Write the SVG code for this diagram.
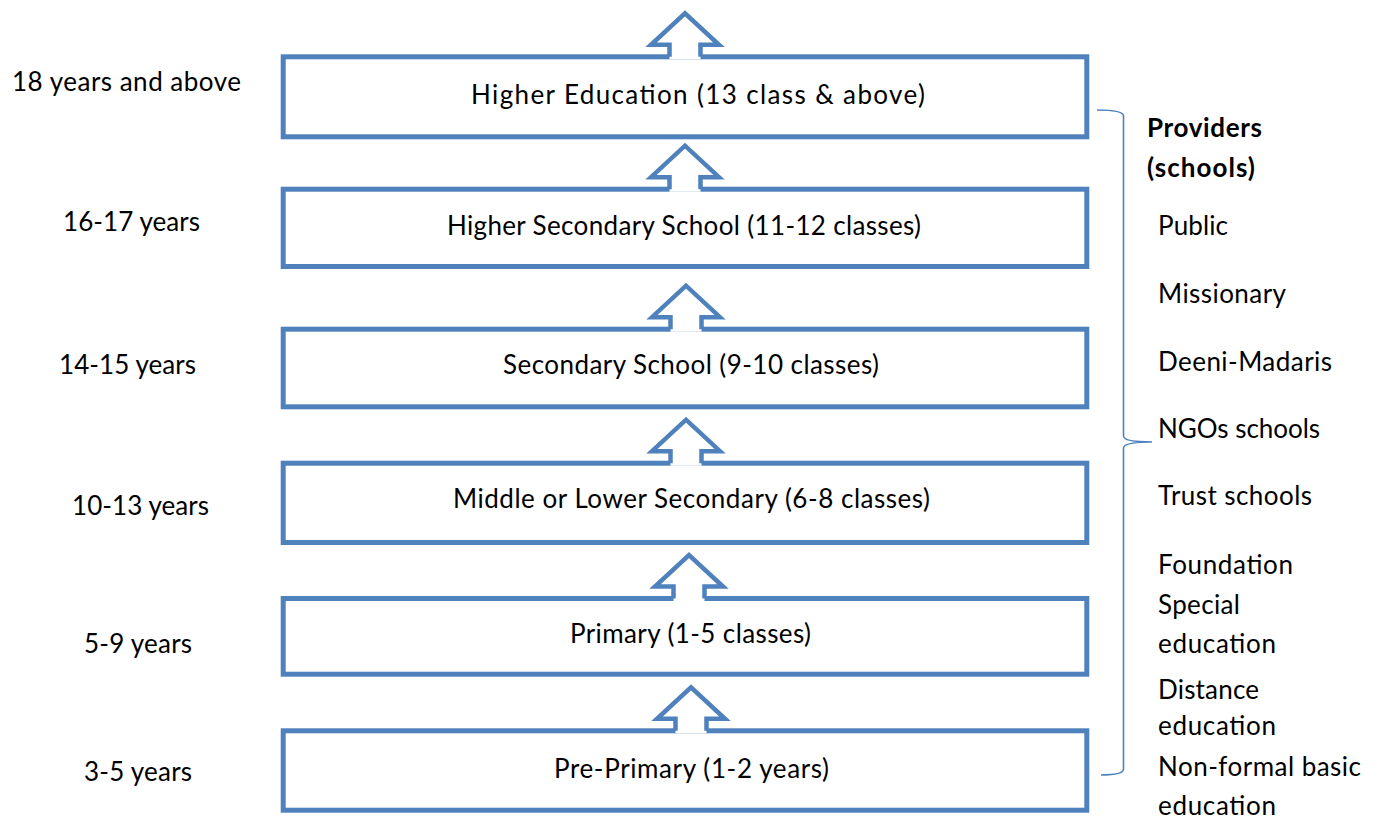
<svg xmlns="http://www.w3.org/2000/svg" xmlns:xlink="http://www.w3.org/1999/xlink" width="1379" height="821" viewBox="0 0 1379 821">
  <style>
    .box { fill: #ffffff; stroke: #4f81bd; stroke-width: 5; }
    .arrow-fill { fill: #ffffff; stroke: none; }
    .arrow-line { fill: none; stroke: #4f81bd; stroke-width: 4.5; stroke-linejoin: miter; }
    .brace { fill: none; stroke: #4f81bd; stroke-width: 1.6; }
    text { font-family: Lato, "Liberation Sans", sans-serif; font-size: 26px; fill: #000000; }
    .mid { text-anchor: middle; }
    .bold { font-weight: bold; }
  </style>
  <defs>
    <!-- hollow up-arrow, origin at the top edge of the box it rises from -->
    <g id="up-arrow">
      <path class="arrow-fill" d="M0,-41 L34,-9.5 L15.5,-9.5 L15.5,5 L-15.5,5 L-15.5,-9.5 L-34,-9.5 Z"/>
      <path class="arrow-line" d="M-15.5,2.5 V-9.5 H-34 L0,-41 L34,-9.5 H15.5 V2.5"/>
    </g>
  </defs>
  <rect width="1379" height="821" fill="#ffffff"/>

  <!-- age labels -->
  <g id="ages">
    <text class="mid" x="126.5" y="91" textLength="229">18 years and above</text>
    <text class="mid" x="131.5" y="231" textLength="137">16-17 years</text>
    <text class="mid" x="127.5" y="374" textLength="137">14-15 years</text>
    <text class="mid" x="140.5" y="515" textLength="137">10-13 years</text>
    <text class="mid" x="138" y="653" textLength="108">5-9 years</text>
    <text class="mid" x="138" y="781" textLength="108">3-5 years</text>
  </g>

  <!-- education levels -->
  <g id="higher-education">
    <rect class="box" x="283.2" y="56.8" width="803.6" height="80"/>
    <text class="mid" x="698" y="104" textLength="454">Higher Education (13 class &amp; above)</text>
  </g>
  <g id="higher-secondary">
    <rect class="box" x="283.2" y="189.2" width="803.6" height="77.3"/>
    <text class="mid" x="684" y="235" textLength="474">Higher Secondary School (11-12 classes)</text>
  </g>
  <g id="secondary">
    <rect class="box" x="283.2" y="329.2" width="803.6" height="77.6"/>
    <text class="mid" x="691" y="374" textLength="376">Secondary School (9-10 classes)</text>
  </g>
  <g id="middle">
    <rect class="box" x="283.2" y="463.2" width="803.6" height="79.3"/>
    <text class="mid" x="691.5" y="508" textLength="477">Middle or Lower Secondary (6-8 classes)</text>
  </g>
  <g id="primary">
    <rect class="box" x="283.2" y="598.5" width="803.6" height="75.7"/>
    <text class="mid" x="690.5" y="643" textLength="241">Primary (1-5 classes)</text>
  </g>
  <g id="pre-primary">
    <rect class="box" x="283.2" y="730.8" width="803.6" height="79.4"/>
    <text class="mid" x="691.5" y="778" textLength="275">Pre-Primary (1-2 years)</text>
  </g>

  <!-- connectors: progression arrows and providers brace -->
  <g id="connectors">
    <use xlink:href="#up-arrow" x="685" y="54.3"/>
    <use xlink:href="#up-arrow" x="685" y="186.7"/>
    <use xlink:href="#up-arrow" x="686" y="326.7"/>
    <use xlink:href="#up-arrow" x="686" y="460.7"/>
    <use xlink:href="#up-arrow" x="689" y="596"/>
    <use xlink:href="#up-arrow" x="691" y="728.3"/>
    <path class="brace" d="M1097,110 Q1123.5,110 1123.5,116 V436 Q1123.5,442 1152,442 Q1123.5,442 1123.5,448 V769 Q1123.5,775 1101,775"/>
  </g>

  <!-- providers list -->
  <g id="providers">
    <text class="bold" x="1147" y="137" textLength="115">Providers</text>
    <text class="bold" x="1147" y="177" textLength="108">(schools)</text>
    <text x="1158" y="235" textLength="70">Public</text>
    <text x="1158" y="303" textLength="128">Missionary</text>
    <text x="1158" y="371" textLength="174">Deeni-Madaris</text>
    <text x="1158" y="438" textLength="162">NGOs schools</text>
    <text x="1158" y="505" textLength="154">Trust schools</text>
    <text x="1158" y="574" textLength="135">Foundation</text>
    <text x="1158" y="614" textLength="82">Special</text>
    <text x="1158" y="653" textLength="118">education</text>
    <text x="1158" y="699" textLength="101">Distance</text>
    <text x="1158" y="735" textLength="118">education</text>
    <text x="1158" y="776" textLength="203">Non-formal basic</text>
    <text x="1158" y="815" textLength="118">education</text>
  </g>
</svg>
